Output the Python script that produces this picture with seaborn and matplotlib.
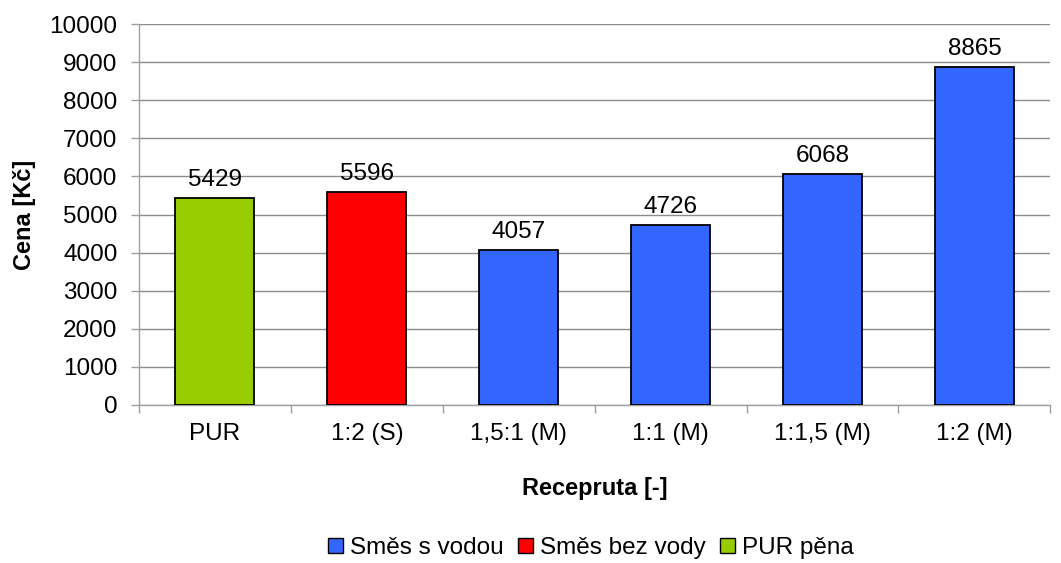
import matplotlib
matplotlib.use('Agg')
import matplotlib.pyplot as plt
from matplotlib.ticker import FixedLocator
import seaborn as sns
import pandas as pd

# data
categories = ["PUR", "1:2 (S)", "1,5:1 (M)", "1:1 (M)", "1:1,5 (M)", "1:2 (M)"]
prices = [5429, 5596, 4057, 4726, 6068, 8865]
series = ["PUR pěna", "Směs bez vody", "Směs s vodou", "Směs s vodou",
          "Směs s vodou", "Směs s vodou"]
series_order = ["Směs s vodou", "Směs bez vody", "PUR pěna"]
colors = {"Směs s vodou": "#3366FF", "Směs bez vody": "#FF0000", "PUR pěna": "#99CC00"}

df = pd.DataFrame({"cat": categories, "price": prices, "series": series})

sns.set_style("white")
plt.rcParams['font.family'] = ['Liberation Sans', 'DejaVu Sans']
plt.rcParams['font.size'] = 17.5
for k in ['text.color', 'axes.labelcolor', 'xtick.color', 'ytick.color']:
    plt.rcParams[k] = 'black'

fig = plt.figure(figsize=(10.61, 5.63), dpi=100)
ax = fig.add_axes([0.131, 0.281, 0.859, 0.676])

sns.barplot(data=df, x="cat", y="price", hue="series", hue_order=series_order,
            order=categories, palette=colors, dodge=False, width=0.52,
            saturation=1, edgecolor="black", linewidth=1.3, ax=ax, zorder=3)

for cont in ax.containers:
    ax.bar_label(cont, fmt="%d", padding=5, fontsize=17.5)

ax.set_ylim(0, 10000)
ax.set_xlim(-0.5, 5.5)
ax.set_yticks(range(0, 10001, 1000))
ax.yaxis.grid(True, color="#8c8c8c", linewidth=1)
ax.set_axisbelow(True)
for s in ["top", "right"]:
    ax.spines[s].set_visible(False)
for s in ["left", "bottom"]:
    ax.spines[s].set_color("#a0a0a0")
    ax.spines[s].set_linewidth(1)

ax.tick_params(axis="y", length=5.5, width=1, color="#a0a0a0", pad=10, labelsize=17.5,
               left=True, labelcolor="black")
ax.tick_params(axis="x", length=0, pad=13, labelsize=17.5, labelcolor="black")
ax.xaxis.set_minor_locator(FixedLocator([i - 0.5 for i in range(7)]))
ax.tick_params(axis="x", which="minor", length=5.5, width=1, color="#a0a0a0", bottom=True)

ax.set_ylabel("Cena [Kč]", fontweight="bold", fontsize=17, labelpad=10)
ax.set_xlabel("Recepruta [-]", fontweight="bold", fontsize=17, labelpad=23)

sns.move_legend(ax, "center", bbox_to_anchor=(0.557, 0.027), bbox_transform=fig.transFigure,
                ncol=3, frameon=False, title=None, fontsize=17.5,
                handlelength=0.6, handleheight=0.6, handletextpad=0.3,
                columnspacing=0.6, borderaxespad=0)
for h in ax.get_legend().legend_handles:
    h.set_edgecolor("black")
    h.set_linewidth(1)

fig.savefig("out.png", dpi=100)
